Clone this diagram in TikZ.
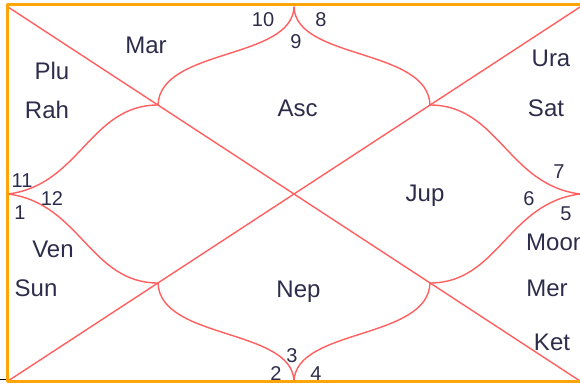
\documentclass[tikz,border=0pt]{standalone}
\usepackage{fontspec}
\setmainfont{Liberation Sans}
\usepackage{xcolor}
\definecolor{chartline}{RGB}{255,95,95}
\definecolor{chartframe}{RGB}{255,165,10}
\definecolor{chartink}{RGB}{45,45,75}

\begin{document}
\begin{tikzpicture}[line cap=round,line join=round,x=1pt,y=-1pt,
  house/.style={draw=chartline,line width=1.4pt},
  planet/.style={anchor=base,inner sep=0pt,text=chartink,font=\fontsize{24}{24}\selectfont},
  hnum/.style={anchor=base,inner sep=0pt,text=chartink,font=\fontsize{20}{20}\selectfont}]
 	\useasboundingbox (0,0) rectangle (580,385);
 	\coordinate (TL) at (8,7);
 	\coordinate (TR) at (580,7);
 	\coordinate (BL) at (8,381);
 	\coordinate (BR) at (580,381);
 	\coordinate (T) at (294,7);
 	\coordinate (B) at (294,381);
 	\coordinate (L) at (8,194);
 	\coordinate (R) at (580,194);
 	\coordinate (a) at (158,105);
 	\coordinate (b) at (430,105);
 	\coordinate (c) at (158,283);
 	\coordinate (d) at (430,283);
 	\draw [house] (TL)-- (BR);
 	\draw [house] (TR)-- (BL);
 	\draw [house] (T) .. controls (292,60) and (160,48) .. (a);
 	\draw [house] (T) .. controls (296,60) and (428,48) .. (b);
 	\draw [house] (B) .. controls (292,328) and (160,340) .. (c);
 	\draw [house] (B) .. controls (296,328) and (428,340) .. (d);
 	\draw [house] (L) .. controls (80,185) and (90,105) .. (a);
 	\draw [house] (L) .. controls (80,203) and (90,283) .. (c);
 	\draw [house] (R) .. controls (508,185) and (498,105) .. (b);
 	\draw [house] (R) .. controls (508,203) and (498,283) .. (d);
 	\draw [draw=chartframe,line width=3pt,line cap=butt] (580,5)-- (7.5,5)-- (7.5,381)-- (580,381);
 	\draw [black,line width=1pt,line cap=butt] (0,379)-- (6,379);
 	\node[planet] (mar) at (146,54) {Mar};
 	\node[planet] (plu) at (52,80) {Plu};
 	\node[planet] (rah) at (47,118) {Rah};
 	\node[planet] (asc) at (297.5,117) {Asc};
 	\node[planet] (ura) at (551,67) {Ura};
 	\node[planet] (sat) at (546,117) {Sat};
 	\node[planet] (jup) at (425,201) {Jup};
 	\node[planet,anchor=base west] (moon) at (526,250) {Moon};
 	\node[planet] (mer) at (547,296) {Mer};
 	\node[planet] (ket) at (552,350) {Ket};
 	\node[planet] (nep) at (298.5,297) {Nep};
 	\node[planet] (ven) at (53,257) {Ven};
 	\node[planet] (sun) at (36,296) {Sun};
 	\node[hnum] (h1) at (20,219) {1};
 	\node[hnum] (h2) at (276,380) {2};
 	\node[hnum] (h3) at (292,362) {3};
 	\node[hnum] (h4) at (316,380) {4};
 	\node[hnum] (h5) at (566,220) {5};
 	\node[hnum] (h6) at (529,205) {6};
 	\node[hnum] (h7) at (559,178) {7};
 	\node[hnum] (h8) at (321,27) {8};
 	\node[hnum] (h9) at (296,49) {9};
 	\node[hnum] (h10) at (263,27) {10};
 	\node[hnum] (h11) at (22,187) {11};
 	\node[hnum] (h12) at (52,205) {12};
\end{tikzpicture}
\end{document}
